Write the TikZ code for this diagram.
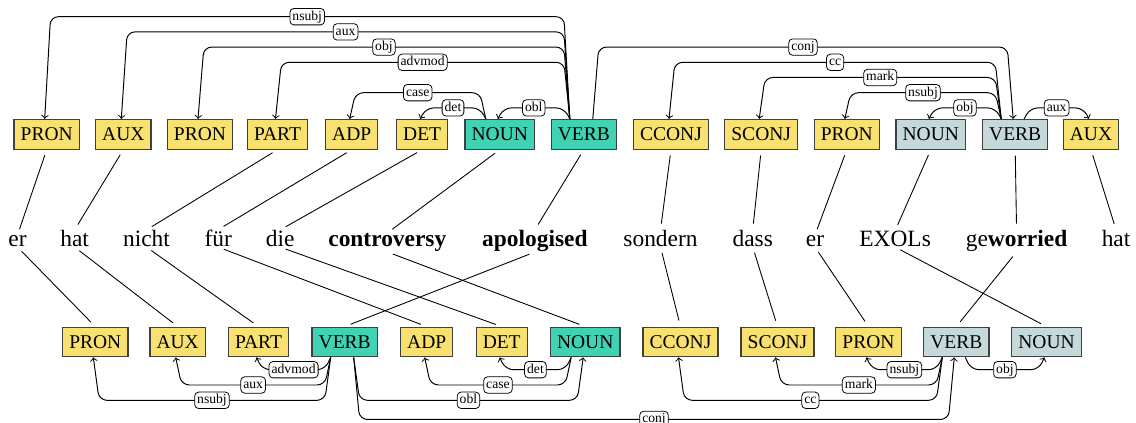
\documentclass[tikz,border=0pt]{standalone}
\usepackage{fontspec}
\setmainfont{Liberation Serif}
\usetikzlibrary{calc}
\definecolor{cyel}{RGB}{248,225,112}
\definecolor{cteal}{RGB}{64,210,178}
\definecolor{cgray}{RGB}{197,216,218}
\tikzset{
  box/.style={draw=black!75, line width=0.6pt, font=\fontsize{10}{12}\selectfont,
    text height=6.6pt, text depth=0pt, inner xsep=3.4pt, inner ysep=4.3pt},
  yel/.style={box, fill=cyel},
  teal/.style={box, fill=cteal},
  gry/.style={box, fill=cgray},
  word/.style={inner sep=0pt, anchor=base west, font=\fontsize{12}{14}\selectfont},
  lbl/.style={draw=black, fill=white, rounded corners=2pt, line width=0.4pt,
    font=\fontsize{7}{8}\selectfont, inner xsep=1.3pt, inner ysep=1.1pt,
    text height=4.8pt, text depth=1.4pt},
  dep/.style={->, line width=0.5pt, rounded corners=4pt},
  alignline/.style={line width=0.45pt, shorten <=3pt, shorten >=3.2pt}
}
% top edge: head, head x-offset, dependent, level, label
\newcommand\tdep[5]{%
  \draw[dep] let \p1=($(#1.north)+(#2,0)$), \p2=($(#3.north)+(-2,0)$),
    \n1={sign(\x2-\x1)}, \n2={(11+15.2*(#4-1))*0.5128} in
    (\p1) -- (\x1+\n1*3pt, \y1+\n2*1pt) -- node[lbl]{#5} (\x2-\n1*3pt, \y1+\n2*1pt) -- (\p2);}
% bottom edge
\newcommand\bdep[5]{%
  \draw[dep] let \p1=($(#1.south)+(#2,0)$), \p2=($(#3.south)+(-2,0)$),
    \n1={sign(\x2-\x1)}, \n2={(12.3+15.3*(#4-1))*0.5128} in
    (\p1) -- (\x1+\n1*3pt, \y1-\n2*1pt) -- node[lbl]{#5} (\x2-\n1*3pt, \y1-\n2*1pt) -- (\p2);}
\begin{document}
\begin{tikzpicture}[x=0.5128pt, y=-0.5128pt]
\useasboundingbox (0,0) rectangle (1136,423);
% top row
\node[yel]  (t1)  at (46.7,134.3)  {PRON};
\node[yel]  (t2)  at (123.3,134.3) {AUX};
\node[yel]  (t3)  at (200,134.3)   {PRON};
\node[yel]  (t4)  at (277.5,134.3) {PART};
\node[yel]  (t5)  at (351.7,134.3) {ADP};
\node[yel]  (t6)  at (422.2,134.3) {DET};
\node[teal] (t7)  at (499.8,134.3) {NOUN};
\node[teal] (t8)  at (583.8,134.3) {VERB};
\node[yel]  (t9)  at (671,134.3)   {CCONJ};
\node[yel]  (t10) at (761.2,134.3) {SCONJ};
\node[yel]  (t11) at (846.8,134.3) {PRON};
\node[gry]  (t12) at (930.8,134.3) {NOUN};
\node[gry]  (t13) at (1015.2,134.3) {VERB};
\node[yel]  (t14) at (1091,134.3)  {AUX};
% words
\node[word] (w1)  at (8,246.5)    {er};
\node[word] (w2)  at (60,246.5)   {hat};
\node[word] (w3)  at (122.7,246.5) {nicht};
\node[word] (w4)  at (204.2,246.5) {für};
\node[word] (w5)  at (265.5,246.5) {die};
\node[word] (w6)  at (328,246.5)  {\textbf{controversy}};
\node[word] (w7)  at (481.8,246.5) {\textbf{apologised}};
\node[word] (w8)  at (623.1,246.5) {sondern};
\node[word] (w9)  at (732.2,246.5) {dass};
\node[word] (w10) at (805.5,246.5) {er};
\node[word] (w11) at (859,246.5)  {EXOLs};
\node[word] (w12) at (965.5,246.5) {ge\textbf{worried}};
\node[word] (w13) at (1101.4,246.5) {hat};
% bottom row
\node[yel]  (b1)  at (95.3,342)  {PRON};
\node[yel]  (b2)  at (177.7,342) {AUX};
\node[yel]  (b3)  at (258.5,342) {PART};
\node[teal] (b4)  at (344.7,342) {VERB};
\node[yel]  (b5)  at (426.7,342) {ADP};
\node[yel]  (b6)  at (501.7,342) {DET};
\node[teal] (b7)  at (585.2,342) {NOUN};
\node[yel]  (b8)  at (680.5,342) {CCONJ};
\node[yel]  (b9)  at (777.5,342) {SCONJ};
\node[yel]  (b10) at (868.5,342) {PRON};
\node[gry]  (b11) at (956.3,342) {VERB};
\node[gry]  (b12) at (1046.5,342) {NOUN};
% alignment lines top -> words
\foreach \a/\b in {t1/w1,t2/w2,t4/w3,t5/w4,t6/w5,t7/w6,t8/w7,t9/w8,t10/w9,t11/w10,t12/w11,t13/w12,t14/w13}
  \draw[alignline] (\a.south) -- (\b.north);
% alignment lines words -> bottom
\foreach \a/\b in {w1/b1,w2/b2,w3/b3,w4/b5,w5/b6,w6/b7,w7/b4,w8/b8,w9/b9,w10/b10,w11/b12,w12/b11}
  \draw[alignline] (\a.south) -- (\b.north);
% top dependencies
\tdep{t8}{-14}{t1}{7}{nsubj}
\tdep{t8}{-14}{t2}{6}{aux}
\tdep{t8}{-14}{t3}{5}{obj}
\tdep{t8}{-14}{t4}{4}{advmod}
\tdep{t7}{-14}{t5}{2}{case}
\tdep{t7}{-14}{t6}{1}{det}
\tdep{t8}{-14}{t7}{1}{obl}
\tdep{t8}{9}{t13}{5}{conj}
\tdep{t13}{-14}{t9}{4}{cc}
\tdep{t13}{-14}{t10}{3}{mark}
\tdep{t13}{-14}{t11}{2}{nsubj}
\tdep{t13}{-14}{t12}{1}{obj}
\tdep{t13}{9}{t14}{1}{aux}
% bottom dependencies
\bdep{b4}{-14}{b3}{1}{advmod}
\bdep{b4}{-14}{b2}{2}{aux}
\bdep{b4}{-14}{b1}{3}{nsubj}
\bdep{b7}{-14}{b6}{1}{det}
\bdep{b7}{-14}{b5}{2}{case}
\bdep{b4}{9}{b7}{3}{obl}
\bdep{b4}{9}{b11}{4.25}{conj}
\bdep{b11}{-14}{b10}{1}{nsubj}
\bdep{b11}{-14}{b9}{2}{mark}
\bdep{b11}{-14}{b8}{3}{cc}
\bdep{b11}{9}{b12}{1}{obj}
\end{tikzpicture}
\end{document}
